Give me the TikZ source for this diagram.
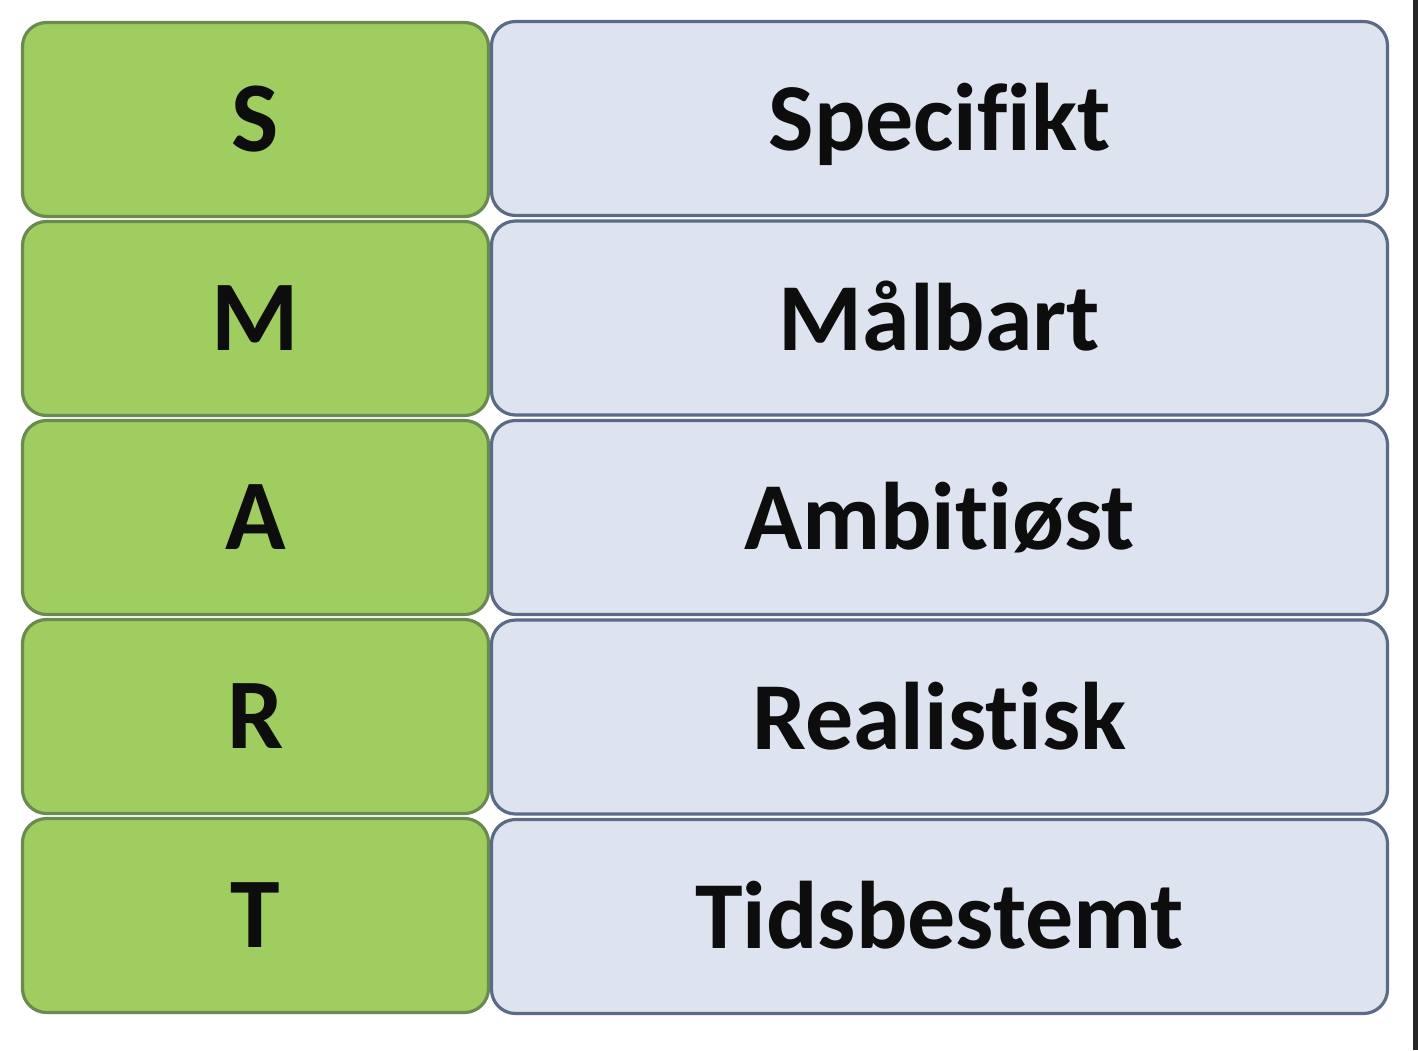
\documentclass[tikz,border=0pt]{standalone}
\usepackage{fontspec}
\setmainfont{Carlito}[Ligatures={NoCommon}]
\definecolor{gfill}{HTML}{9FCD60}
\definecolor{gdraw}{HTML}{6A8A52}
\definecolor{bfill}{HTML}{DDE4F0}
\definecolor{bdraw}{HTML}{5B6B85}
\begin{document}
\begin{tikzpicture}[x=0.5pt,y=-0.5pt,
  letterbox/.style={draw=gdraw,fill=gfill,line width=1.6pt,rounded corners=12pt,
    minimum width=233pt,minimum height=97pt,inner sep=0pt,text height=32pt,text depth=0pt,
    font=\fontsize{50}{55}\selectfont\bfseries,text=black!95},
  wordbox/.style={draw=bdraw,fill=bfill,line width=1.6pt,rounded corners=12pt,
    minimum width=448pt,minimum height=97pt,inner sep=0pt,text height=32pt,text depth=0pt,
    font=\fontsize{48}{55}\selectfont\bfseries,text=black!95}]
\useasboundingbox (0,0) rectangle (1418,1050);
\fill[white] (0,0) rectangle (1418,1050);
\fill[black!85] (1413,0) rectangle (1418,1050);
\foreach \L/\W/\n [count=\i from 0] in {S/Specifikt/s,M/Målbart/m,A/Ambitiøst/a,R/Realistisk/r,T/Tidsbestemt/t}{
  \node[letterbox] (l\n) at (255.5,{119.5+199*\i}) {\L};
  \node[wordbox] (w\n) at (939.5,{118.5+199.5*\i}) {\W};
}
\end{tikzpicture}
\end{document}
